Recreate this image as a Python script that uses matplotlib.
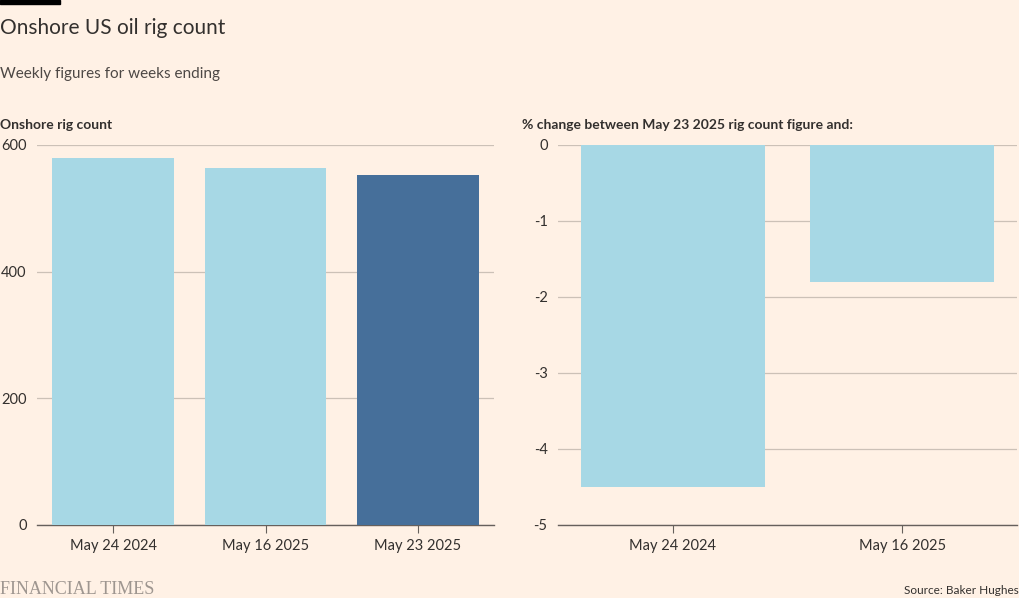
import matplotlib
matplotlib.use("Agg")
import matplotlib.pyplot as plt

categories_left = ["May 24 2024", "May 16 2025", "May 23 2025"]
rig_count = [579, 563, 553]
categories_right = ["May 24 2024", "May 16 2025"]
pct_change = [-4.5, -1.8]
left_ticks = [0, 200, 400, 600]
right_ticks = [0, -1, -2, -3, -4, -5]

BG = "#FFF1E5"
LIGHT = "#A7D8E5"
DARK = "#466F9A"
TEXT = "#33302E"
GRID = "#CCC1B7"
AXIS = "#66605C"
FONT = "Lato"

plt.rcParams["font.family"] = [FONT, "DejaVu Sans"]

W, H = 1020, 598
fig = plt.figure(figsize=(W / 100, H / 100), dpi=100, facecolor=BG)

def ax_rect(x0, y0, x1, y1):
    return [x0 / W, 1 - y1 / H, (x1 - x0) / W, (y1 - y0) / H]

axL = fig.add_axes(ax_rect(37, 145, 494, 525))
axR = fig.add_axes(ax_rect(558, 145, 1017, 525))

for ax in (axL, axR):
    ax.set_facecolor(BG)
    for s in ("top", "right", "left"):
        ax.spines[s].set_visible(False)
    ax.spines["bottom"].set_color(AXIS)
    ax.spines["bottom"].set_linewidth(1)
    ax.tick_params(axis="y", length=0, labelsize=10.5, colors=TEXT, pad=7.5)
    ax.tick_params(axis="x", length=6, color=AXIS, labelsize=10.5, colors=TEXT, pad=4)
    ax.yaxis.grid(True, color=GRID, linewidth=0.9)
    ax.set_axisbelow(True)

colors_left = [LIGHT, LIGHT, DARK]
axL.bar(range(len(categories_left)), rig_count, width=0.8, color=colors_left, zorder=3)
axL.set_xlim(-0.5, len(categories_left) - 0.5)
axL.set_ylim(0, 600)
axL.set_yticks(left_ticks)
axL.set_yticklabels([str(t) for t in left_ticks])
axL.set_xticks(range(len(categories_left)))
axL.set_xticklabels(categories_left)

axR.bar(range(len(categories_right)), pct_change, width=0.8, color=LIGHT, zorder=3)
axR.set_xlim(-0.5, len(categories_right) - 0.5)
axR.set_ylim(-5, 0)
axR.set_yticks(right_ticks)
axR.set_yticklabels([str(t) for t in right_ticks])
axR.set_xticks(range(len(categories_right)))
axR.set_xticklabels(categories_right)
axR.spines["bottom"].set_position(("data", -5))

# Top black bar
fig.patches.append(plt.Rectangle((0, 1 - 4 / H), 60 / W, 4 / H, transform=fig.transFigure,
                                 color="black", zorder=10))

fig.text(0 / W, 1 - 28 / H, "Onshore US oil rig count", fontsize=15, color=TEXT,
         va="center", ha="left")
fig.text(0 / W, 1 - 74 / H, "Weekly figures for weeks ending", fontsize=11, color="#4D4845",
         va="center", ha="left")
fig.text(0 / W, 1 - 125 / H, "Onshore rig count", fontsize=10, color=TEXT,
         va="center", ha="left", fontweight="bold")
fig.text(522 / W, 1 - 125 / H, "% change between May 23 2025 rig count figure and:", fontsize=10,
         color=TEXT, va="center", ha="left", fontweight="bold")
fig.text(0 / W, 1 - 589 / H, "FINANCIAL TIMES", fontsize=13, color="#9E9690",
         va="center", ha="left", family=["Liberation Serif", "DejaVu Serif"])
fig.text(1019 / W, 1 - 591 / H, "Source: Baker Hughes", fontsize=8.5, color=TEXT,
         va="center", ha="right")

fig.savefig("out.png", dpi=100, facecolor=BG)
